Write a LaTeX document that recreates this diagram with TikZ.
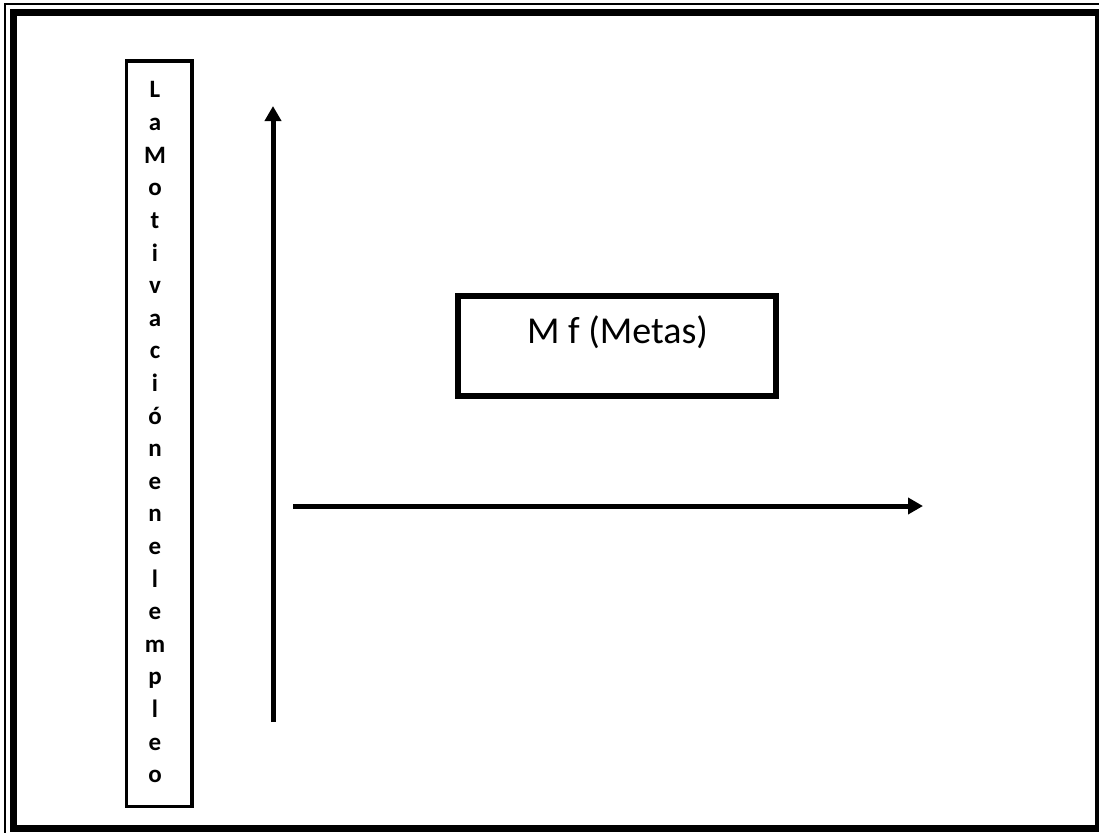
\documentclass[tikz,border=0pt]{standalone}
\usepackage{fontspec}
\setmainfont{Carlito}
\usetikzlibrary{arrows.meta}
\tikzset{
  frame/.style={draw=black, line width=7pt},
  thinframe/.style={draw=black, line width=1.5pt},
  vbox/.style={draw=black, line width=3.5pt},
  mbox/.style={draw=black, line width=6pt, minimum width=318.5pt, minimum height=99.5pt, inner sep=0pt},
  letter/.style={anchor=base, inner sep=0pt, font=\bfseries\fontsize{25}{28}\selectfont},
  axis/.style={line width=5pt, -{Triangle[width=16pt,length=15pt]}},
}
\begin{document}
\begin{tikzpicture}[x=1pt,y=-1pt]
\useasboundingbox (0,0) rectangle (1099,832);
\fill[white] (0,0) rectangle (1099,832);
% outer double frame
\draw[thinframe] (5,4) rectangle (1110,845);
\draw[frame] (13.5,13) rectangle (1098.5,828.5);
% vertical text box
\draw[vbox] (126.7,61) rectangle (192,806.5);
\foreach \ch [count=\i] in {L,a,M,o,t,i,v,a,c,i,ó,n,e,n,e,l,e,m,p,l,e,o} {
  \node[letter] (c\i) at (155,{98+(\i-1)*32.6}) {\ch};
}
% axes
\coordinate (vs) at (273,722);
\coordinate (ve) at (273,106);
\draw[axis] (vs) -- (ve);
\coordinate (hs) at (293,506);
\coordinate (he) at (923,506);
\draw[axis] (hs) -- (he);
% Mf box
\node[mbox] (mf) at (617.2,346.2) {};
\node[anchor=base, inner sep=0pt, font=\fontsize{38}{42}\selectfont] (mft) at (617.5,343) {M f (Metas)};
\end{tikzpicture}
\end{document}
